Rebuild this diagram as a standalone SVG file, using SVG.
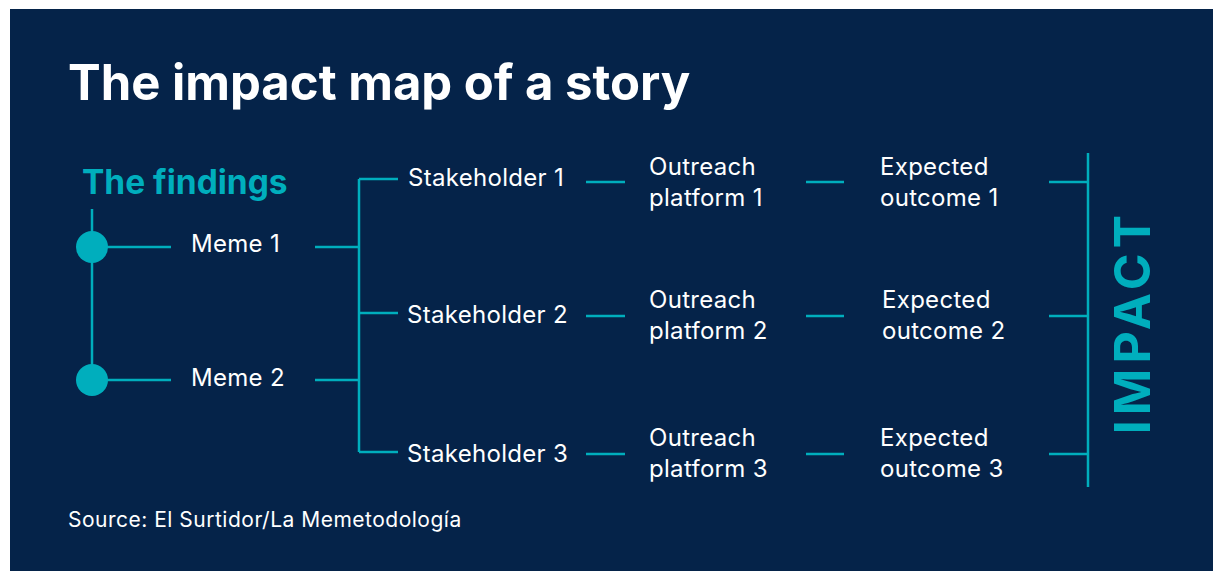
<svg xmlns="http://www.w3.org/2000/svg" width="1213" height="574" viewBox="0 0 1213 574">
  <style>
    .label { font-family: Inter, "Liberation Sans", sans-serif; font-size: 24px; letter-spacing: 0.3px; fill: #ffffff; }
    .line { stroke: #00aebd; stroke-width: 2.5; fill: none; }
    .dot { fill: #00aebd; }
  </style>
  <rect x="0" y="0" width="1213" height="574" fill="#ffffff"/>
  <rect x="10" y="9" width="1203" height="562" fill="#052349"/>

  <text id="title" x="68" y="100" font-family="Inter, 'Liberation Sans', sans-serif" font-size="49" font-weight="700" fill="#ffffff">The impact map of a story</text>

  <g id="connectors">
    <!-- findings spine -->
    <path class="line" d="M92 209 V380"/>
    <path class="line" d="M92 247 H171 M92 380 H171"/>
    <!-- memes to stakeholders -->
    <path class="line" d="M315 247 H359 M315 380 H359"/>
    <path class="line" d="M359 179 V452 M359 179 H398 M359 313 H398 M359 452 H398"/>
    <!-- stakeholders to platforms -->
    <path class="line" d="M586 182 H625 M586 316 H625 M586 454 H625"/>
    <!-- platforms to outcomes -->
    <path class="line" d="M806 182 H844 M806 316 H844 M806 454 H844"/>
    <!-- outcomes to impact -->
    <path class="line" d="M1049 182 H1088 M1049 316 H1088 M1049 454 H1088"/>
    <path class="line" d="M1088 153 V487"/>
  </g>

  <g id="findings">
    <text x="82" y="194" font-family="Inter, 'Liberation Sans', sans-serif" font-size="33.5" font-weight="700" fill="#00aebd">The findings</text>
  </g>

  <g id="meme-1">
    <circle class="dot" cx="92" cy="247" r="16"/>
    <text class="label" x="191" y="252">Meme 1</text>
  </g>
  <g id="meme-2">
    <circle class="dot" cx="92" cy="380" r="16"/>
    <text class="label" x="191" y="386">Meme 2</text>
  </g>

  <g id="stakeholder-1"><text class="label" x="408" y="186">Stakeholder 1</text></g>
  <g id="stakeholder-2"><text class="label" x="407" y="323">Stakeholder 2</text></g>
  <g id="stakeholder-3"><text class="label" x="407" y="462">Stakeholder 3</text></g>

  <g id="platform-1"><text class="label" x="649" y="175">Outreach<tspan x="649" y="206">platform 1</tspan></text></g>
  <g id="platform-2"><text class="label" x="649" y="308">Outreach<tspan x="649" y="339">platform 2</tspan></text></g>
  <g id="platform-3"><text class="label" x="649" y="446">Outreach<tspan x="649" y="477">platform 3</tspan></text></g>

  <g id="outcome-1"><text class="label" x="880" y="175">Expected<tspan x="880" y="206">outcome 1</tspan></text></g>
  <g id="outcome-2"><text class="label" x="882" y="308">Expected<tspan x="882" y="339">outcome 2</tspan></text></g>
  <g id="outcome-3"><text class="label" x="880" y="446">Expected<tspan x="880" y="477">outcome 3</tspan></text></g>

  <g id="impact">
    <text transform="translate(1150 322) rotate(-90)" text-anchor="middle" font-family="Inter, 'Liberation Sans', sans-serif" font-size="50" font-weight="700" letter-spacing="5" fill="#00aebd">IMPACT</text>
  </g>

  <text id="source" x="68" y="527" font-family="Inter, 'Liberation Sans', sans-serif" font-size="21" letter-spacing="0.5" fill="#ffffff">Source: El Surtidor/La Memetodología</text>
</svg>
